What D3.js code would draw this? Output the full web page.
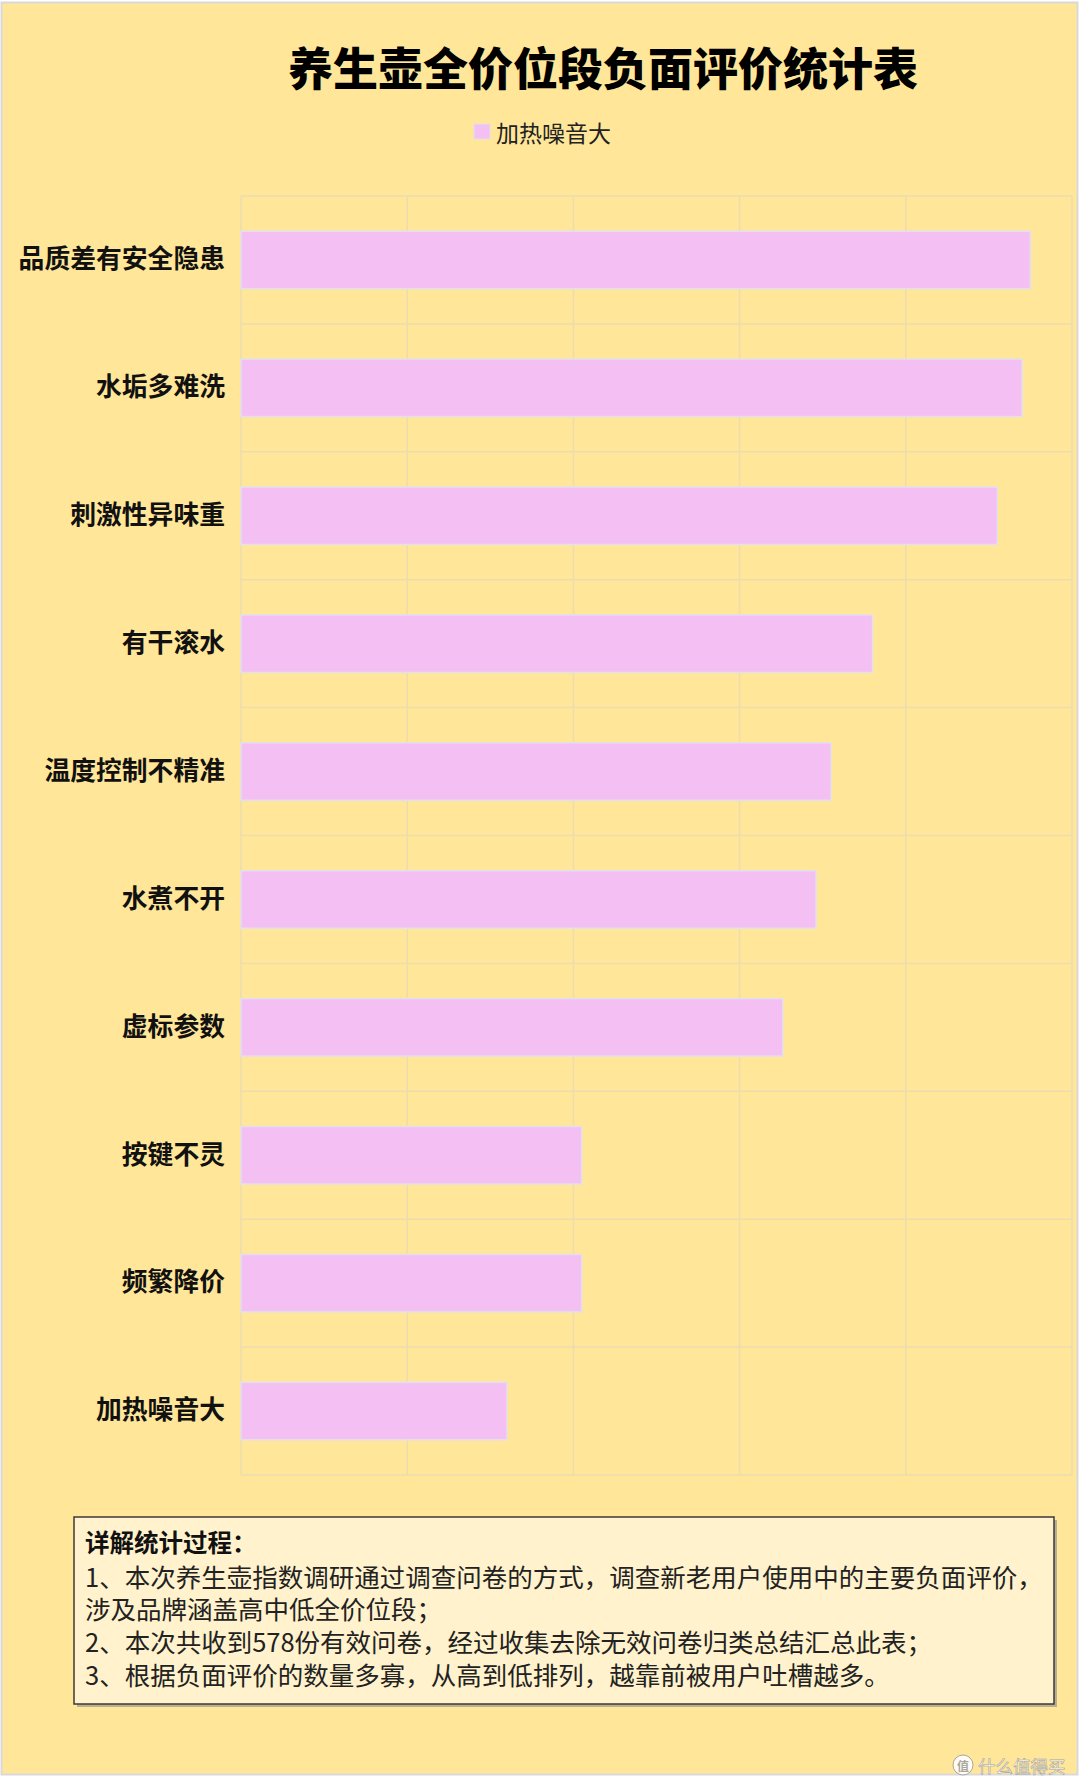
<!DOCTYPE html>
<html>
<head>
<meta charset="utf-8">
<script src="https://cdn.jsdelivr.net/npm/d3@7/dist/d3.min.js"></script>
<style>
  html, body { margin: 0; padding: 0; background: #ffffff; }
  svg { display: block; }
  text { font-family: "Noto Sans CJK SC", "Noto Sans", sans-serif; }
</style>
</head>
<body>
<svg id="chart" width="1080" height="1789"></svg>
<script>
// ---- data ----
const title = "养生壶全价位段负面评价统计表";
const seriesName = "加热噪音大";
const categories = ["品质差有安全隐患", "水垢多难洗", "刺激性异味重", "有干滚水", "温度控制不精准",
                    "水煮不开", "虚标参数", "按键不灵", "频繁降价", "加热噪音大"];
const values = [475, 470, 455, 380, 355, 346, 326, 205, 205, 160];
const axisMax = 500;
const noteTitle = "详解统计过程：";
const noteLines = [
  "1、本次养生壶指数调研通过调查问卷的方式，调查新老用户使用中的主要负面评价，",
  "涉及品牌涵盖高中低全价位段；",
  "2、本次共收到578份有效问卷，经过收集去除无效问卷归类总结汇总此表；",
  "3、根据负面评价的数量多寡，从高到低排列，越靠前被用户吐槽越多。"
];
const watermark = "什么值得买";

// ---- layout ----
const svg = d3.select("#chart");
const plot = { left: 241, right: 1072, top: 196, bottom: 1475 };
const bg = "#FFE699", barFill = "#F4C0F4", gridColor = "#EBDDAE";

svg.append("rect").attr("x", 1.5).attr("y", 2.5).attr("width", 1076).attr("height", 1772)
  .attr("fill", bg).attr("stroke", "#d9d9d9").attr("stroke-width", 2);

// title
svg.append("text").attr("x", 603).attr("y", 66).attr("text-anchor", "middle")
  .attr("dominant-baseline", "central").attr("font-size", 45).attr("font-weight", 900)
  .attr("fill", "#000").text(title);

// legend
const leg = svg.append("g");
leg.append("rect").attr("x", 474).attr("y", 124).attr("width", 16).attr("height", 15)
  .attr("fill", barFill).attr("stroke", "#e2dfe8").attr("stroke-width", 1);
leg.append("text").attr("x", 496).attr("y", 132).attr("dominant-baseline", "central")
  .attr("font-size", 23).attr("fill", "#222").text(seriesName);

// scales
const x = d3.scaleLinear().domain([0, axisMax]).range([plot.left, plot.right]);
const y = d3.scaleBand().domain(categories).range([plot.top, plot.bottom])
  .paddingInner(0.55).paddingOuter(0.275);

// gridlines
const grid = svg.append("g");
grid.selectAll("line.v").data(x.ticks(5)).join("line").attr("class", "v")
  .attr("x1", d => x(d)).attr("x2", d => x(d))
  .attr("y1", plot.top).attr("y2", plot.bottom)
  .attr("stroke", gridColor).attr("stroke-width", 1.5);
const step = y.step();
grid.selectAll("line.h").data(d3.range(categories.length + 1)).join("line").attr("class", "h")
  .attr("x1", plot.left).attr("x2", plot.right)
  .attr("y1", i => plot.top + i * step).attr("y2", i => plot.top + i * step)
  .attr("stroke", gridColor).attr("stroke-width", 1.5);

// bars
svg.append("g").selectAll("rect").data(categories).join("rect")
  .attr("x", x(0)).attr("y", d => y(d))
  .attr("width", (d, i) => x(values[i]) - x(0)).attr("height", y.bandwidth())
  .attr("fill", barFill).attr("stroke", "#e4e0ea").attr("stroke-width", 1.5);

// category axis labels
const yAxis = d3.axisLeft(y).tickSize(0).tickPadding(16);
const ya = svg.append("g").attr("transform", `translate(${plot.left},0)`).call(yAxis);
ya.select(".domain").remove();
ya.selectAll("text").attr("font-size", 25.8).attr("font-weight", 700).attr("fill", "#111")
  .attr("font-family", '"Noto Sans CJK SC", sans-serif');

// note box
const box = { x: 74, y: 1517, w: 980, h: 187 };
svg.append("rect").attr("x", box.x + 3).attr("y", box.y + 3).attr("width", box.w).attr("height", box.h)
  .attr("fill", "#8c8c8c").attr("opacity", 0.6);
svg.append("rect").attr("x", box.x).attr("y", box.y).attr("width", box.w).attr("height", box.h)
  .attr("fill", "#FFF2CC").attr("stroke", "#3a3a3a").attr("stroke-width", 1.5);
svg.append("text").attr("x", 85).attr("y", 1541).attr("dominant-baseline", "central")
  .attr("font-size", 24.5).attr("font-weight", 700).attr("fill", "#111").text(noteTitle);
svg.append("g").selectAll("text").data(noteLines).join("text")
  .attr("x", 85).attr("y", (d, i) => 1575 + i * 32.7).attr("dominant-baseline", "central")
  .attr("font-size", 25.5).attr("fill", "#222").text(d => d);

// watermark
const wm = svg.append("g").attr("opacity", 0.9);
wm.append("circle").attr("cx", 963).attr("cy", 1765).attr("r", 10)
  .attr("fill", "#ffffff").attr("stroke", "#a0a0a0").attr("stroke-width", 1);
wm.append("text").attr("x", 963).attr("y", 1765).attr("text-anchor", "middle")
  .attr("dominant-baseline", "central").attr("font-size", 12).attr("font-weight", 700)
  .attr("fill", "#a0a0a0").text("值");
wm.append("text").attr("x", 978).attr("y", 1765).attr("dominant-baseline", "central")
  .attr("font-size", 17.5).attr("fill", "#ffffff").attr("stroke", "#9a9a9a").attr("stroke-width", 0.6)
  .text(watermark);
</script>
</body>
</html>
